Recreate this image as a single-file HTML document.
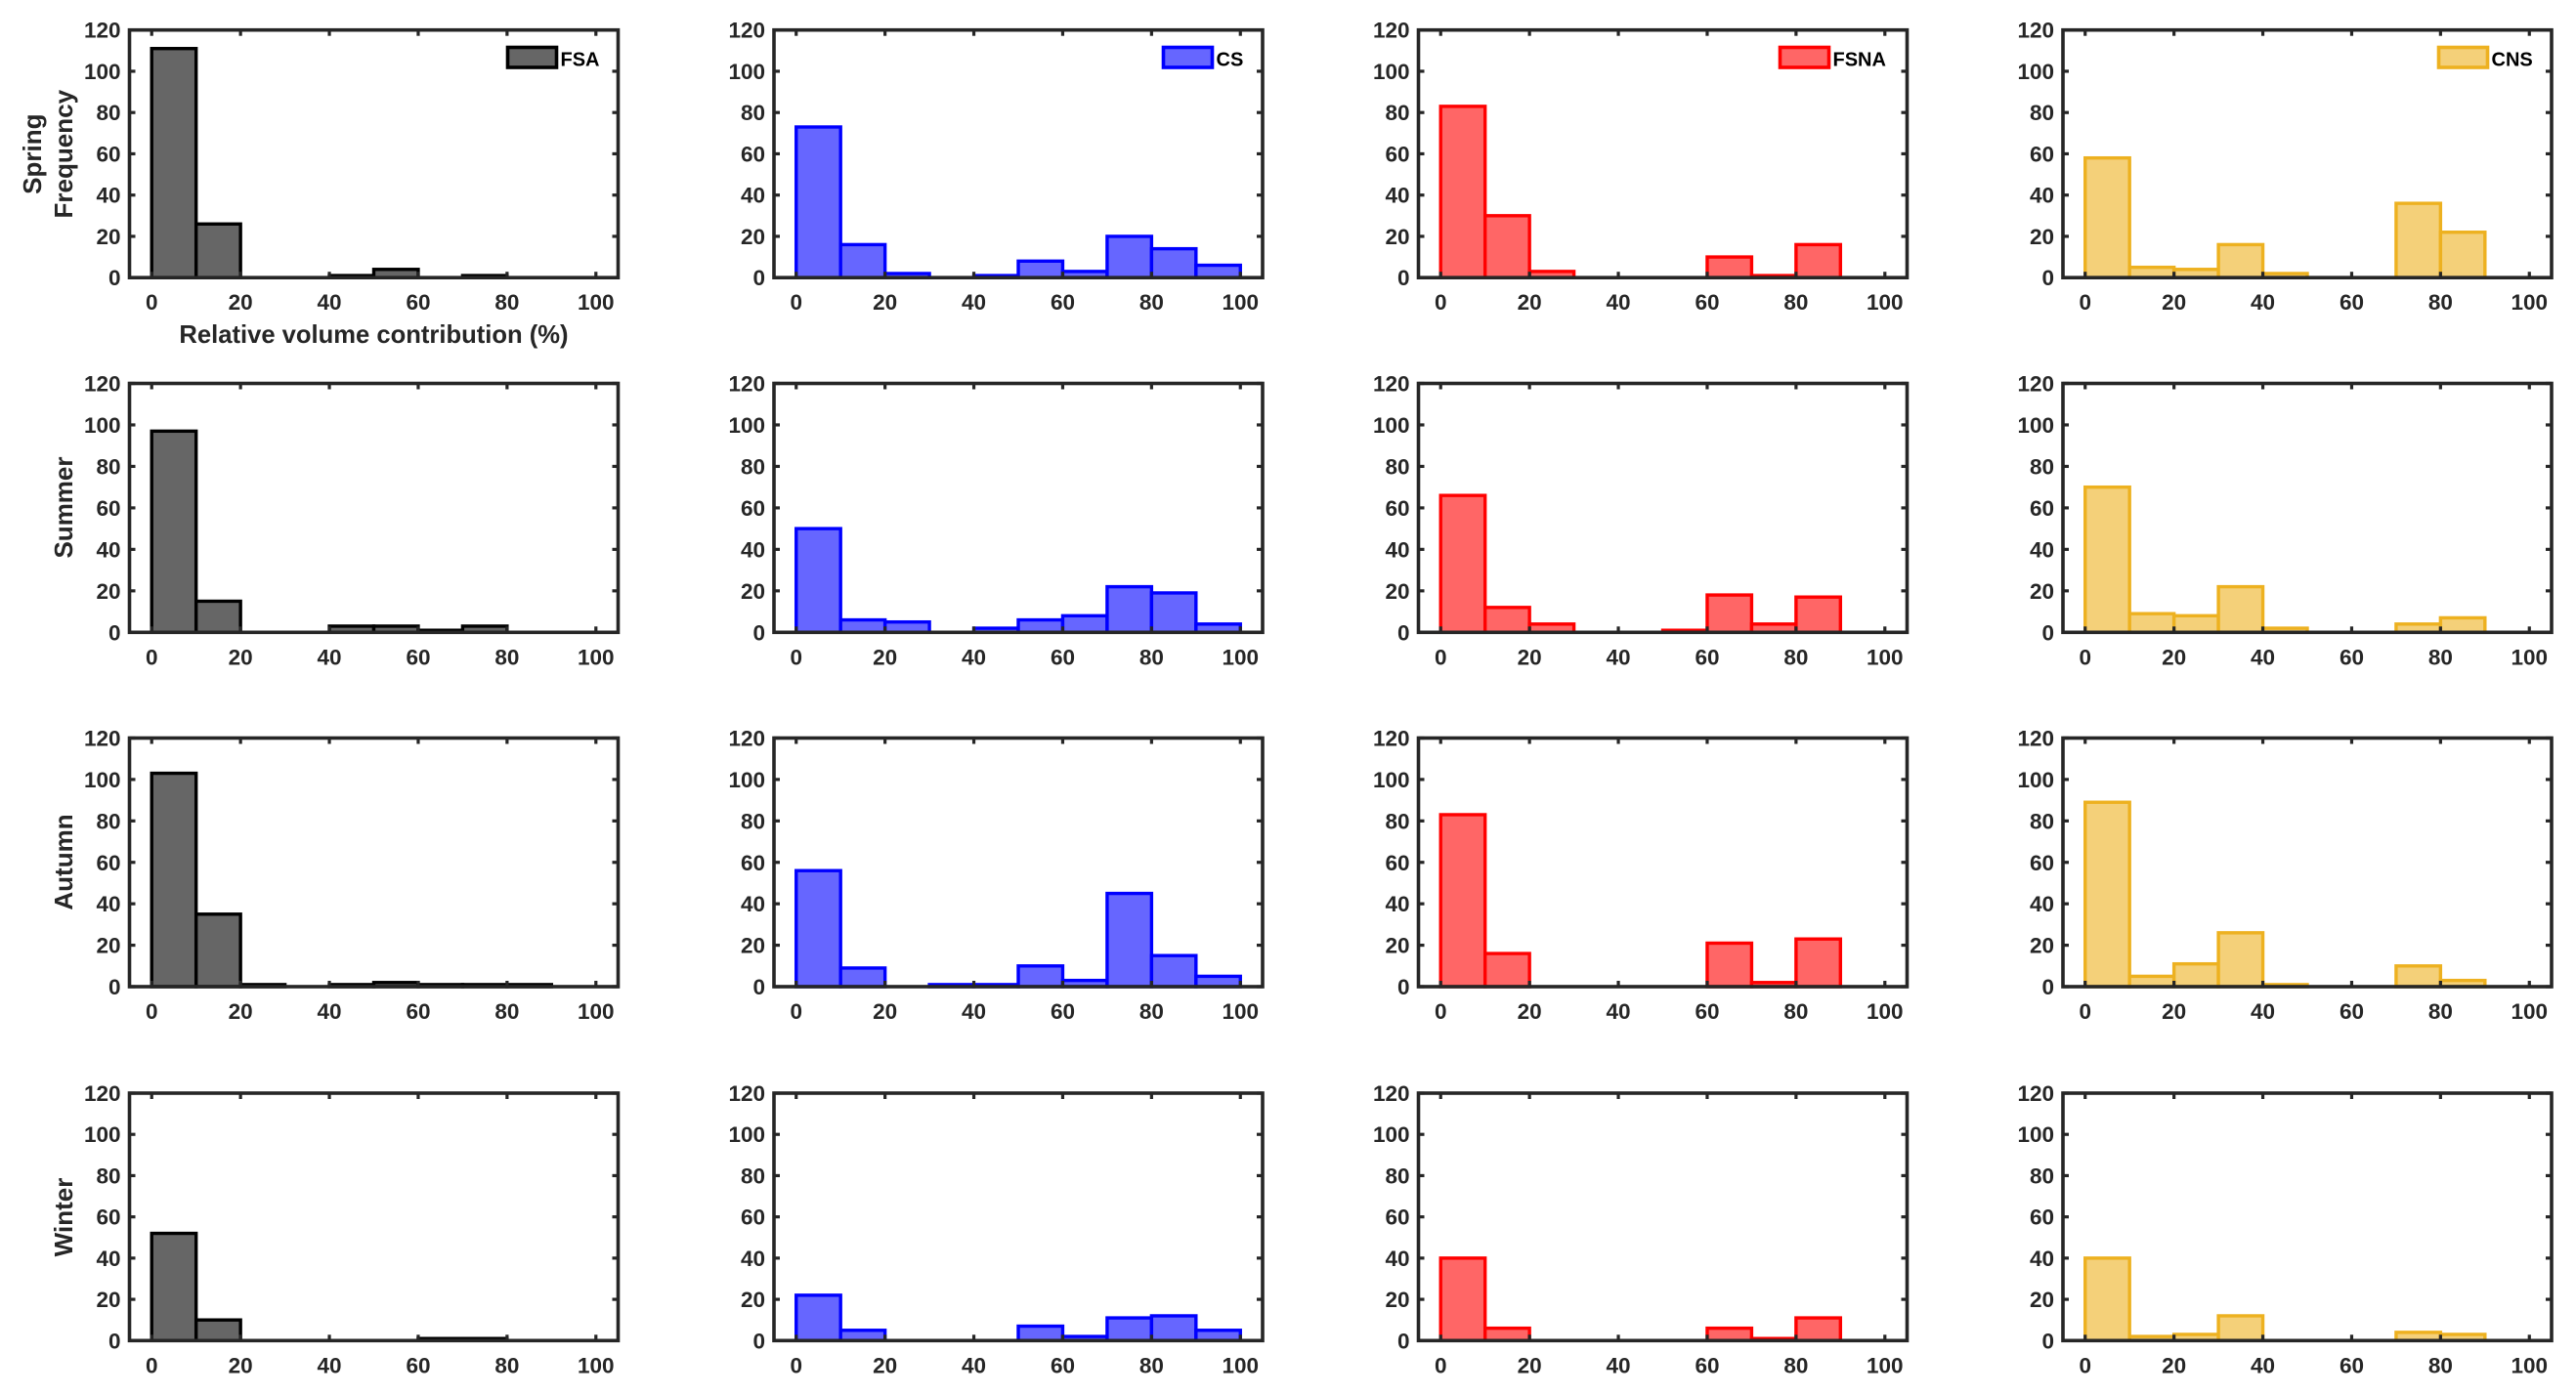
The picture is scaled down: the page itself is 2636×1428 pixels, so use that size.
<!DOCTYPE html>
<html lang="en">
<head>
<meta charset="utf-8">
<title>Relative volume contribution histograms</title>
<style>
html,body{margin:0;padding:0;background:#fff;}
svg{display:block;}
text{font-family:"Liberation Sans",Arial,sans-serif;font-weight:bold;fill:#262626;}
</style>
</head>
<body>
<svg id="chart" xmlns="http://www.w3.org/2000/svg" width="2636" height="1428" viewBox="0 0 2636 1428"></svg>
<script>
const seasons = ['Spring', 'Summer', 'Autumn', 'Winter'];
const sources = ['FSA', 'CS', 'FSNA', 'CNS'];
const binEdges = [0, 10, 20, 30, 40, 50, 60, 70, 80, 90, 100];
const xTickLabels = [0, 20, 40, 60, 80, 100];
const yTickLabels = [0, 20, 40, 60, 80, 100, 120];
const xDomain = [-5, 105];
const yDomain = [0, 120];

const fsaSpring = [111, 26, 0, 0, 1, 4, 0, 1, 0, 0];
const fsaSummer = [97, 15, 0, 0, 3, 3, 1, 3, 0, 0];
const fsaAutumn = [103, 35, 1, 0, 1, 2, 1, 1, 1, 0];
const fsaWinter = [52, 10, 0, 0, 0, 0, 1, 1, 0, 0];

const csSpring = [73, 16, 2, 0, 1, 8, 3, 20, 14, 6];
const csSummer = [50, 6, 5, 0, 2, 6, 8, 22, 19, 4];
const csAutumn = [56, 9, 0, 1, 1, 10, 3, 45, 15, 5];
const csWinter = [22, 5, 0, 0, 0, 7, 2, 11, 12, 5];

const fsnaSpring = [83, 30, 3, 0, 0, 0, 10, 1, 16, 0];
const fsnaSummer = [66, 12, 4, 0, 0, 1, 18, 4, 17, 0];
const fsnaAutumn = [83, 16, 0, 0, 0, 0, 21, 2, 23, 0];
const fsnaWinter = [40, 6, 0, 0, 0, 0, 6, 1, 11, 0];

const cnsSpring = [58, 5, 4, 16, 2, 0, 0, 36, 22, 0];
const cnsSummer = [70, 9, 8, 22, 2, 0, 0, 4, 7, 0];
const cnsAutumn = [89, 5, 11, 26, 1, 0, 0, 10, 3, 0];
const cnsWinter = [40, 2, 3, 12, 0, 0, 0, 4, 3, 0];

const seriesBySource = [
  [fsaSpring, fsaSummer, fsaAutumn, fsaWinter],
  [csSpring, csSummer, csAutumn, csWinter],
  [fsnaSpring, fsnaSummer, fsnaAutumn, fsnaWinter],
  [cnsSpring, cnsSummer, cnsAutumn, cnsWinter]
];

const svg = document.getElementById('chart');
const NS = 'http://www.w3.org/2000/svg';
const AXIS = '#262626';
const panelW = 500;
const colLeft = [132.5, 792, 1451.5, 2111];
const rowTop = [30.7, 392.5, 755.5, 1119];
const rowH = [253.5, 254.8, 254.5, 253.3];
const strokeColors = ['#000000', '#0000ff', '#ff0000', '#edb120'];
const fillColors = ['#666666', '#6666ff', '#ff6666', '#f4d079'];
const legendOffset = [387.5, 399, 370.5, 385];

function make(parent, tag, attrs, txt) {
  const node = document.createElementNS(NS, tag);
  for (const k in attrs) node.setAttribute(k, attrs[k]);
  if (txt !== undefined) node.textContent = txt;
  parent.appendChild(node);
  return node;
}
function xScale(v, left) {
  return left + (v - xDomain[0]) / (xDomain[1] - xDomain[0]) * panelW;
}
function yScale(v, top, h) {
  return top + h - (v - yDomain[0]) / (yDomain[1] - yDomain[0]) * h;
}

seriesBySource.forEach(function (rows, c) {
  rows.forEach(function (values, r) {
    const left = colLeft[c], top = rowTop[r], panelH = rowH[r], bottom = top + panelH, right = left + panelW;
    const slug = sources[c].toLowerCase() + '-' + seasons[r].toLowerCase();

    const g = make(svg, 'g', {});
    
    

    values.forEach(function (v, i) {
      if (v <= 0) return;
      const x0 = xScale(binEdges[i], left), x1 = xScale(binEdges[i + 1], left), y = yScale(v, top, panelH);
      const bar = make(g, 'rect', {
        x: x0, y: y, width: x1 - x0, height: yScale(0, top, panelH) - y,
        fill: fillColors[c], stroke: strokeColors[c], 'stroke-width': 3.4
      });
      
      
    });

    const frame = make(g, 'rect', {
      x: left, y: top, width: panelW, height: panelH,
      fill: 'none', stroke: AXIS, 'stroke-width': 3.6
    });
    
    

    xTickLabels.forEach(function (t) {
      const x = xScale(t, left);
      const tb = make(g, 'line', { x1: x, x2: x, y1: bottom, y2: bottom - 6, stroke: AXIS, 'stroke-width': 3.2 });
      
      
      const tt = make(g, 'line', { x1: x, x2: x, y1: top, y2: top + 6, stroke: AXIS, 'stroke-width': 3.2 });
      
      
      const lab = make(g, 'text', { x: x, y: bottom + 33, 'text-anchor': 'middle', 'font-size': 22.5 }, String(t));
      
      
    });

    yTickLabels.forEach(function (t) {
      const y = yScale(t, top, panelH);
      const tl = make(g, 'line', { x1: left, x2: left + 6, y1: y, y2: y, stroke: AXIS, 'stroke-width': 3.2 });
      
      
      const tr = make(g, 'line', { x1: right, x2: right - 6, y1: y, y2: y, stroke: AXIS, 'stroke-width': 3.2 });
      
      
      const lab = make(g, 'text', { x: left - 9, y: y + 8, 'text-anchor': 'end', 'font-size': 22.5 }, String(t));
      
      
    });

    if (r === 0) {
      const lx = left + legendOffset[c];
      const box = make(g, 'rect', {
        x: lx - 0.5, y: top + 17.8, width: 50, height: 20.5,
        fill: fillColors[c], stroke: strokeColors[c], 'stroke-width': 3.6
      });
      
      
      const lt = make(g, 'text', { x: lx + 53.5, y: top + 37, 'font-size': 20 }, sources[c]);
      lt.style.fill = '#000';
      
      
    }
  });
});

seasons.forEach(function (name, r) {
  const cy = rowTop[r] + 127;
  const cx = r === 0 ? 42 : 74;
  const label = make(svg, 'text', {
    x: cx, y: cy, 'text-anchor': 'middle', 'font-size': 26,
    transform: 'rotate(-90 ' + cx + ' ' + cy + ')'
  }, name);
  
  
});

const freqX = 74, freqY = rowTop[0] + 127;
const freq = make(svg, 'text', {
  x: freqX, y: freqY, 'text-anchor': 'middle', 'font-size': 26,
  transform: 'rotate(-90 ' + freqX + ' ' + freqY + ')'
}, 'Frequency');



const xTitle = make(svg, 'text', { x: 382.5, y: 351, 'text-anchor': 'middle', 'font-size': 25.6 }, 'Relative volume contribution (%)');


</script>
</body>
</html>
